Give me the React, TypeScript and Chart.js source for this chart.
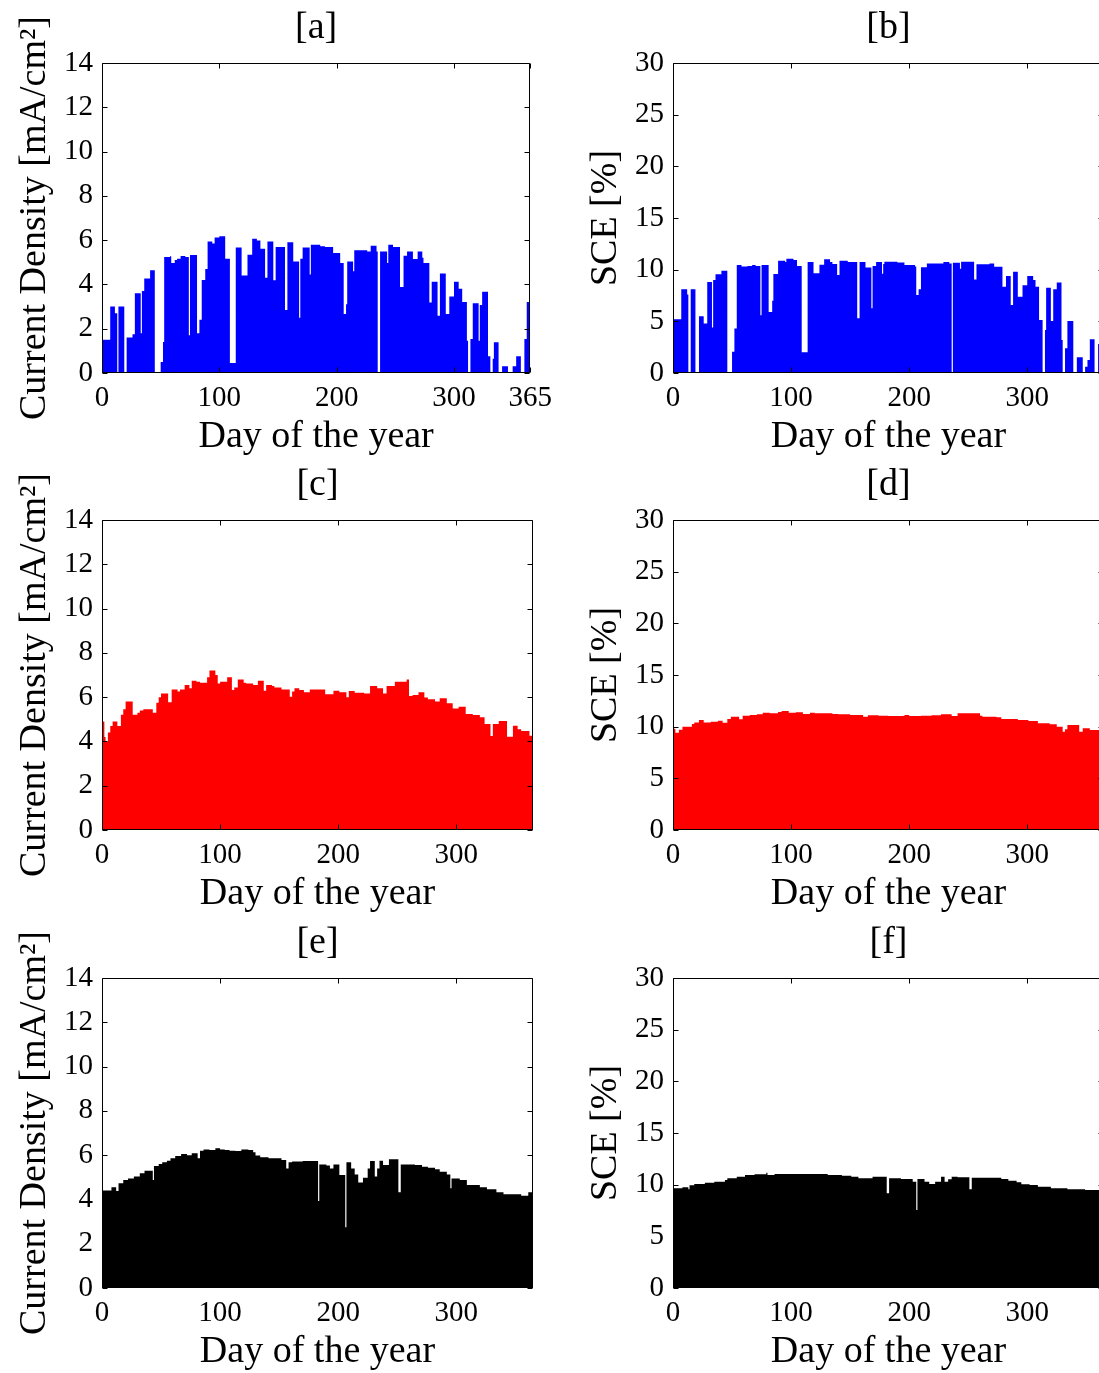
import React, { useEffect, useRef } from 'react';
import { Chart, registerables } from 'chart.js';

Chart.register(...registerables);

const FONT = "'Liberation Serif', 'Times New Roman', Times, serif";

// Tick values
const X_TICKS_A = [0, 100, 200, 300, 365];
const X_TICKS = [0, 100, 200, 300];
const Y_TICKS_CD = [0, 2, 4, 6, 8, 10, 12, 14];
const Y_TICKS_SCE = [0, 5, 10, 15, 20, 25, 30];

// [day where the value starts, value] - each value holds until the next day listed
const A_STEPS = [
  [0, 1.5], [7, 3.0], [11, 2.7], [13, 0], [14, 3.0], [19, 0], [21, 1.6], [26, 1.75], [28, 3.6], [33, 1.8],
  [34, 3.7], [36, 4.27], [41, 4.64], [45, 0], [50, 0.5], [52, 1.4], [53, 5.24], [58, 5.27], [59, 4.97], [62, 5.1],
  [64, 5.16], [67, 5.28], [71, 5.24], [74, 1.7], [75, 5.33], [81, 1.8], [83, 2.4], [85, 4.2], [88, 4.7], [90, 5.94],
  [94, 5.85], [96, 6.12], [100, 6.18], [105, 5.16], [109, 0.45], [114, 5.67], [119, 4.4], [124, 5.34], [128, 6.06], [132, 5.98],
  [135, 5.61], [139, 4.3], [141, 5.94], [146, 4.19], [148, 5.69], [156, 2.84], [158, 5.9], [163, 5.04], [168, 2.5], [169, 5.16],
  [171, 5.67], [177, 4.45], [178, 5.79], [186, 5.72], [190, 5.69], [197, 5.42], [203, 4.97], [206, 2.66], [208, 3.1], [209, 5.04],
  [214, 4.6], [215, 5.54], [226, 5.49], [229, 5.75], [234, 5.49], [235, 0], [237, 5.49], [243, 4.97], [244, 5.79], [248, 5.69],
  [254, 3.88], [257, 5.3], [260, 5.49], [265, 5.15], [269, 5.49], [273, 5.2], [274, 4.97], [279, 3.18], [281, 4.12], [286, 2.58],
  [288, 4.49], [293, 2.66], [296, 3.45], [300, 4.12], [304, 3.81], [307, 3.21], [311, 1.46], [312, 0], [314, 1.54], [316, 3.15],
  [321, 1.46], [322, 3.07], [324, 3.67], [329, 0.76], [331, 0], [333, 0.64], [334, 1.39], [338, 0], [341, 0.31], [346, 0],
  [350, 0.3], [353, 0.76], [357, 0], [360, 1.54], [362, 3.21], [365, 3.21],
];

const B_STEPS = [
  [0, 5.19], [7, 8.1], [12, 7.6], [13, 0], [15, 8.1], [19, 0], [22, 5.48], [26, 4.8], [29, 8.8], [33, 4.4],
  [34, 9.0], [36, 9.55], [41, 9.9], [46, 0], [50, 2.06], [52, 4.3], [54, 10.45], [58, 10.3], [63, 10.35], [67, 10.45],
  [70, 10.35], [74, 5.6], [75, 10.45], [81, 5.9], [84, 7.0], [85, 9.58], [89, 10.87], [95, 10.75], [96, 11.06], [102, 10.94],
  [105, 10.35], [109, 2.0], [114, 10.74], [119, 9.65], [124, 10.48], [128, 11.0], [133, 10.75], [135, 10.55], [139, 9.48], [141, 10.87],
  [148, 10.74], [156, 5.3], [158, 10.74], [163, 10.2], [168, 6.26], [169, 10.35], [172, 10.74], [177, 9.6], [178, 10.55], [179, 10.77],
  [190, 10.7], [196, 10.45], [205, 10.3], [206, 7.55], [208, 8.1], [210, 10.23], [215, 10.6], [229, 10.74], [234, 10.6], [236, 0],
  [237, 10.68], [243, 10.1], [244, 10.77], [255, 9.06], [257, 10.52], [268, 10.6], [272, 10.29], [279, 8.35], [282, 9.39], [286, 6.58],
  [288, 9.8], [292, 7.39], [296, 8.5], [300, 9.39], [305, 9.0], [307, 8.35], [310, 5.13], [313, 0], [315, 4.16], [316, 8.26],
  [320, 5.03], [322, 8.1], [325, 8.77], [329, 3.19], [330, 0], [332, 2.39], [334, 5.03], [339, 0], [342, 1.52], [347, 0],
  [349, 0.61], [351, 1.26], [353, 3.26], [357, 0], [360, 2.8], [362, 6.0], [365, 6.0],
];

const C_STEPS = [
  [0, 4.9], [2, 4.2], [3, 4.0], [5, 4.4], [7, 4.7], [9, 4.9], [13, 4.7], [16, 5.2], [18, 5.45], [20, 5.8],
  [26, 5.2], [30, 5.3], [32, 5.4], [35, 5.45], [43, 5.3], [46, 5.75], [48, 6.0], [50, 6.17], [56, 5.77], [59, 6.35],
  [64, 6.25], [66, 6.35], [70, 6.55], [74, 6.4], [76, 6.74], [80, 6.7], [83, 6.65], [89, 6.9], [91, 7.2], [96, 7.0],
  [98, 6.62], [100, 6.7], [106, 6.9], [110, 6.32], [112, 6.44], [115, 6.8], [120, 6.65], [122, 6.62], [128, 6.55], [132, 6.74],
  [137, 6.29], [139, 6.55], [144, 6.5], [146, 6.44], [152, 6.35], [159, 6.02], [161, 6.25], [163, 6.4], [167, 6.32], [171, 6.22],
  [176, 6.35], [189, 6.13], [196, 6.29], [201, 6.22], [207, 5.99], [209, 6.28], [214, 6.2], [222, 6.17], [227, 6.5], [233, 6.4],
  [238, 6.17], [241, 6.5], [248, 6.7], [258, 6.8], [260, 6.05], [263, 6.1], [268, 6.22], [273, 5.98], [276, 5.9], [282, 5.8],
  [286, 5.95], [292, 5.72], [297, 5.49], [302, 5.57], [308, 5.24], [314, 5.19], [320, 5.09], [324, 4.79], [329, 4.24], [331, 4.79],
  [336, 4.92], [343, 4.21], [348, 4.71], [352, 4.55], [355, 4.47], [362, 4.26], [365, 4.26],
];

const D_STEPS = [
  [0, 9.8], [2, 9.4], [5, 9.7], [8, 10.0], [16, 10.26], [18, 10.4], [22, 10.65], [26, 10.4], [32, 10.48], [38, 10.58],
  [42, 10.39], [46, 10.74], [49, 10.97], [56, 10.71], [59, 11.06], [65, 11.13], [71, 11.19], [76, 11.35], [82, 11.29], [89, 11.42],
  [92, 11.52], [98, 11.35], [104, 11.39], [110, 11.23], [116, 11.35], [120, 11.29], [135, 11.23], [140, 11.19], [150, 11.13], [161, 10.97],
  [165, 11.1], [174, 11.06], [182, 11.03], [196, 11.13], [200, 11.03], [210, 11.06], [219, 11.1], [227, 11.19], [236, 11.03], [241, 11.29],
  [260, 11.06], [262, 10.97], [274, 10.9], [278, 10.74], [292, 10.65], [301, 10.55], [309, 10.32], [319, 10.23], [325, 10.0], [330, 9.52],
  [332, 9.74], [334, 10.16], [344, 9.52], [347, 9.84], [353, 9.68], [365, 9.68],
];

const E_STEPS = [
  [0, 4.4], [8, 4.55], [12, 4.38], [14, 4.73], [18, 4.88], [22, 4.95], [27, 5.03], [32, 5.18], [36, 5.3], [43, 4.88],
  [44, 5.51], [48, 5.6], [51, 5.68], [55, 5.75], [58, 5.86], [62, 5.96], [67, 6.05], [72, 6.0], [76, 6.08], [81, 5.86],
  [83, 6.2], [86, 6.26], [91, 6.23], [96, 6.31], [100, 6.26], [104, 6.23], [108, 6.2], [113, 6.19], [118, 6.26], [124, 6.23],
  [128, 6.13], [130, 5.98], [134, 5.9], [141, 5.86], [152, 5.78], [156, 5.4], [158, 5.68], [161, 5.71], [170, 5.74], [183, 3.93],
  [184, 5.58], [190, 5.53], [193, 5.4], [196, 5.58], [201, 5.1], [206, 2.74], [207, 5.68], [211, 5.4], [214, 5.13], [217, 4.77],
  [221, 4.98], [225, 5.4], [227, 5.74], [231, 5.03], [233, 5.4], [235, 5.75], [238, 5.55], [243, 5.81], [251, 4.32], [253, 5.58],
  [265, 5.55], [271, 5.48], [276, 5.43], [282, 5.36], [286, 5.25], [292, 5.13], [295, 4.5], [296, 4.95], [303, 4.88], [309, 4.65],
  [320, 4.55], [326, 4.46], [334, 4.32], [340, 4.23], [355, 4.17], [361, 4.32], [365, 4.32],
];

const F_STEPS = [
  [0, 9.65], [8, 9.74], [13, 9.55], [14, 9.94], [18, 10.06], [27, 10.19], [35, 10.29], [44, 10.45], [46, 10.61], [54, 10.77],
  [61, 10.94], [69, 11.0], [79, 11.16], [80, 10.94], [86, 11.03], [131, 10.94], [143, 10.87], [151, 10.77], [157, 10.61], [169, 10.77],
  [181, 9.16], [183, 10.61], [193, 10.55], [203, 10.29], [206, 7.55], [207, 10.55], [213, 10.29], [217, 10.06], [222, 10.29], [227, 10.77],
  [230, 10.29], [233, 10.52], [236, 10.77], [241, 10.71], [251, 9.55], [253, 10.68], [278, 10.55], [284, 10.39], [291, 10.23], [295, 10.03],
  [302, 9.97], [309, 9.81], [320, 9.65], [334, 9.55], [349, 9.48], [365, 9.48],
];

type Panel = {
  title: string;
  steps: number[][];
  color: string;
  yMax: number;
  yTicks: number[];
  yLabel: string;
  xTicks: number[];
  left: number;
  top: number;
};

const CD_LABEL = 'Current Density [mA/cm\u00B2]';
const SCE_LABEL = 'SCE [%]';

const PANELS: Panel[] = [
  { title: '[a]', steps: A_STEPS, color: '#0000FF', yMax: 14, yTicks: Y_TICKS_CD, yLabel: CD_LABEL, xTicks: X_TICKS_A, left: 0, top: 0 },
  { title: '[b]', steps: B_STEPS, color: '#0000FF', yMax: 30, yTicks: Y_TICKS_SCE, yLabel: SCE_LABEL, xTicks: X_TICKS, left: 571, top: 0 },
  { title: '[c]', steps: C_STEPS, color: '#FF0000', yMax: 14, yTicks: Y_TICKS_CD, yLabel: CD_LABEL, xTicks: X_TICKS, left: 0, top: 457 },
  { title: '[d]', steps: D_STEPS, color: '#FF0000', yMax: 30, yTicks: Y_TICKS_SCE, yLabel: SCE_LABEL, xTicks: X_TICKS, left: 571, top: 457 },
  { title: '[e]', steps: E_STEPS, color: '#000000', yMax: 14, yTicks: Y_TICKS_CD, yLabel: CD_LABEL, xTicks: X_TICKS, left: 0, top: 915 },
  { title: '[f]', steps: F_STEPS, color: '#000000', yMax: 30, yTicks: Y_TICKS_SCE, yLabel: SCE_LABEL, xTicks: X_TICKS, left: 571, top: 915 },
];

const CANVAS_W = 560;
const CANVAS_H = 458;

const framePlugin = {
  id: 'frameTicks',
  afterDatasetsDraw(chart: any) {
    const { ctx, chartArea } = chart;
    const { left, right, top, bottom } = chartArea;
    const xs = chart.scales.x;
    const ys = chart.scales.y;
    const L = Math.round(left) + 0.5;
    const R = Math.round(right) - 0.5;
    const T = Math.round(top) + 0.5;
    const B = Math.round(bottom) - 0.5;
    const len = 5;
    ctx.save();
    ctx.strokeStyle = '#000';
    ctx.lineWidth = 1;
    ctx.beginPath();
    ctx.rect(L, T, R - L, B - T);
    ys.ticks.forEach((t: any) => {
      const py = Math.round(ys.getPixelForValue(t.value)) + 0.5;
      ctx.moveTo(L, py);
      ctx.lineTo(L + len, py);
      ctx.moveTo(R, py);
      ctx.lineTo(R - len, py);
    });
    xs.ticks.forEach((t: any) => {
      const px = Math.round(xs.getPixelForValue(t.value)) + 0.5;
      ctx.moveTo(px, B);
      ctx.lineTo(px, B - len);
      ctx.moveTo(px, T);
      ctx.lineTo(px, T + len);
    });
    ctx.stroke();
    ctx.restore();
  },
};

function PanelChart({ p }: { p: Panel }) {
  const ref = useRef<HTMLCanvasElement | null>(null);
  useEffect(() => {
    if (!ref.current) return;
    const chart = new Chart(ref.current, {
      type: 'line',
      data: {
        datasets: [
          {
            data: p.steps.map(([d, v]) => ({ x: d, y: v })),
            stepped: true,
            fill: 'origin',
            backgroundColor: p.color,
            borderColor: 'rgba(0,0,0,0)',
            borderWidth: 0,
            pointRadius: 0,
            pointHoverRadius: 0,
          } as any,
        ],
      },
      options: {
        animation: false,
        responsive: false,
        devicePixelRatio: 1,
        events: [],
        layout: { padding: { left: 0, right: 27, top: 0, bottom: 0 } },
        plugins: {
          legend: { display: false },
          tooltip: { enabled: false },
          title: {
            display: true,
            text: p.title,
            color: '#000',
            fullSize: false,
            font: { family: FONT, size: 38, weight: 'normal', lineHeight: 1 },
            padding: { top: 9, bottom: 16 },
          },
        },
        scales: {
          x: {
            type: 'linear',
            min: 0,
            max: 365,
            afterBuildTicks: (s: any) => {
              s.ticks = p.xTicks.map((v) => ({ value: v }));
            },
            afterFit: (s: any) => {
              s.height = 85;
            },
            grid: { display: false, drawTicks: false },
            border: { display: false },
            ticks: {
              color: '#000',
              font: { family: FONT, size: 29 },
              padding: 8,
              maxRotation: 0,
              autoSkip: false,
            },
            title: {
              display: true,
              text: 'Day of the year',
              color: '#000',
              font: { family: FONT, size: 38, lineHeight: 1 },
              padding: { top: 0, bottom: 2 },
            },
          },
          y: {
            type: 'linear',
            min: 0,
            max: p.yMax,
            afterBuildTicks: (s: any) => {
              s.ticks = p.yTicks.map((v) => ({ value: v }));
            },
            afterFit: (s: any) => {
              s.width = 102;
            },
            grid: { display: false, drawTicks: false },
            border: { display: false },
            ticks: {
              color: '#000',
              font: { family: FONT, size: 29 },
              padding: 9,
              autoSkip: false,
            },
            title: {
              display: true,
              text: p.yLabel,
              color: '#000',
              font: { family: FONT, size: 38, lineHeight: 1 },
              padding: { top: 16, bottom: 0 },
            },
          },
        },
      } as any,
      plugins: [framePlugin],
    });
    return () => chart.destroy();
  }, [p]);
  return (
    <canvas
      ref={ref}
      width={CANVAS_W}
      height={CANVAS_H}
      style={{ position: 'absolute', left: p.left, top: p.top, width: CANVAS_W, height: CANVAS_H }}
    />
  );
}

export default function App() {
  return (
    <div
      style={{
        position: 'absolute',
        left: 0,
        top: 0,
        width: 1099,
        height: 1373,
        overflow: 'hidden',
        background: '#ffffff',
      }}
    >
      {PANELS.map((p) => (
        <PanelChart key={p.title} p={p} />
      ))}
    </div>
  );
}
